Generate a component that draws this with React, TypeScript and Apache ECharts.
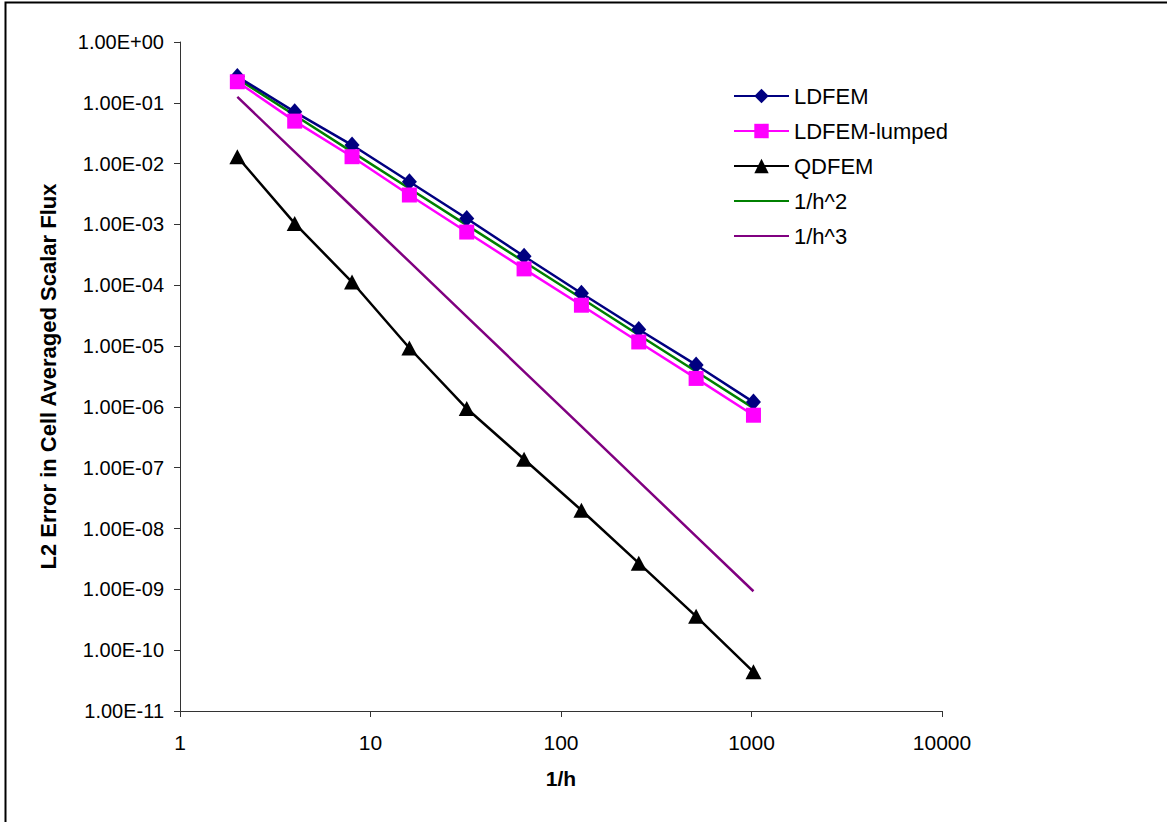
import React, { useEffect, useRef } from "react";
import * as echarts from "echarts";

const xs = [2, 4, 8, 16, 32, 64, 128, 256, 512, 1024];
const ldfem = [0.27, 0.071, 0.0202, 0.00504, 0.00125, 0.0003, 7.4e-5, 1.87e-5, 4.9e-6, 1.2e-6];
const ldfemLumped = [0.222, 0.05, 0.013, 0.00305, 7.5e-4, 1.86e-4, 4.7e-5, 1.17e-5, 2.94e-6, 7.3e-7];
const qdfem = [0.013, 0.00104, 1.13e-4, 9.3e-6, 9.4e-7, 1.38e-7, 2.0e-8, 2.7e-9, 3.6e-10, 4.4e-11];
const invH2 = [0.25, 0.0625, 0.015625, 0.00390625, 9.765625e-4, 2.44140625e-4, 6.103515625e-5, 1.52587890625e-5, 3.814697265625e-6, 9.5367431640625e-7];
const invH3 = [0.125, 0.015625, 0.001953125, 2.44140625e-4, 3.0517578125e-5, 3.814697265625e-6, 4.76837158203125e-7, 5.9604644775390625e-8, 7.450580596923828e-9, 9.313225746154785e-10];
const seriesNames = ["LDFEM", "LDFEM-lumped", "QDFEM", "1/h^2", "1/h^3"];
const xTicks = [1, 10, 100, 1000, 10000];

const FONT = "'Liberation Sans', Arial, sans-serif";

function pairs(vals: number[]) {
  return xs.map((x, i) => [x, vals[i]]);
}

function fmtExp(v: number) {
  const e = Math.round(Math.log10(v));
  const sign = e < 0 ? "-" : "+";
  const a = Math.abs(e);
  return "1.00E" + sign + (a < 10 ? "0" + a : String(a));
}

export default function App() {
  const ref = useRef<HTMLDivElement>(null);
  useEffect(() => {
    if (!ref.current) return;
    const chart = echarts.init(ref.current, undefined, { renderer: "svg" });
    chart.setOption({
      animation: false,
      backgroundColor: "#ffffff",
      grid: { left: 180, right: 225, top: 42, bottom: 111, containLabel: false },
      graphic: [
        {
          type: "rect",
          shape: { x: 5.5, y: 2.5, width: 1300, height: 900 },
          style: { fill: "none", stroke: "#000", lineWidth: 2 },
          silent: true,
        },
      ],
      legend: {
        orient: "vertical",
        left: 728,
        top: 80,
        itemWidth: 55,
        itemHeight: 18,
        itemGap: 13,
        textStyle: { fontFamily: FONT, fontSize: 22, color: "#000" },
        data: [
          { name: seriesNames[0] },
          { name: seriesNames[1] },
          { name: seriesNames[2] },
          { name: seriesNames[3], itemStyle: { opacity: 0 } },
          { name: seriesNames[4], itemStyle: { opacity: 0 } },
        ],
      },
      xAxis: {
        type: "log",
        logBase: 10,
        min: 1,
        max: 10000,
        name: "1/h",
        nameLocation: "middle",
        nameGap: 57,
        nameTextStyle: { fontFamily: FONT, fontSize: 21, fontWeight: "bold", color: "#000" },
        axisLine: { show: true, onZero: false, lineStyle: { color: "#333", width: 1 } },
        axisTick: { show: true, inside: false, length: 6, lineStyle: { color: "#333" } },
        minorTick: { show: false },
        splitLine: { show: false },
        axisLabel: {
          fontFamily: FONT,
          fontSize: 21,
          color: "#000",
          margin: 21,
          formatter: (v: number) => String(xTicks.find((t) => Math.abs(t - v) / t < 1e-6) ?? Math.round(v)),
        },
      },
      yAxis: {
        type: "log",
        logBase: 10,
        min: 1e-11,
        max: 1,
        interval: 1,
        name: "L2 Error in Cell Averaged Scalar Flux",
        nameLocation: "middle",
        nameGap: 121,
        nameRotate: 90,
        nameTextStyle: { fontFamily: FONT, fontSize: 22, fontWeight: "bold", color: "#000" },
        axisLine: { show: true, onZero: false, lineStyle: { color: "#333", width: 1 } },
        axisTick: { show: true, inside: false, length: 6, lineStyle: { color: "#333" } },
        minorTick: { show: false },
        splitLine: { show: false },
        axisLabel: {
          fontFamily: FONT,
          fontSize: 20,
          color: "#000",
          margin: 16,
          formatter: (v: number) => fmtExp(v),
        },
      },
      series: [
        {
          name: "LDFEM",
          type: "line",
          data: pairs(ldfem),
          symbol: "diamond",
          symbolSize: [15, 17],
          itemStyle: { color: "#000080" },
          lineStyle: { color: "#000080", width: 2.5 },
        },
        {
          name: "LDFEM-lumped",
          type: "line",
          data: pairs(ldfemLumped),
          symbol: "rect",
          symbolSize: 15,
          itemStyle: { color: "#ff00ff" },
          lineStyle: { color: "#ff00ff", width: 2.5 },
          z: 3,
        },
        {
          name: "QDFEM",
          type: "line",
          data: pairs(qdfem),
          symbol: "triangle",
          symbolSize: [16, 15],
          itemStyle: { color: "#000000" },
          lineStyle: { color: "#000000", width: 2.5 },
        },
        {
          name: "1/h^2",
          type: "line",
          data: pairs(invH2),
          showSymbol: false,
          symbol: "none",
          itemStyle: { color: "#008000" },
          lineStyle: { color: "#008000", width: 2.5 },
          z: 2,
        },
        {
          name: "1/h^3",
          type: "line",
          data: pairs(invH3),
          showSymbol: false,
          symbol: "none",
          itemStyle: { color: "#800080" },
          lineStyle: { color: "#800080", width: 2.5 },
        },
      ],
    });
    return () => chart.dispose();
  }, []);
  return (
    <div
      ref={ref}
      style={{ position: "fixed", left: 0, top: 0, width: 1167, height: 822, background: "#fff" }}
    />
  );
}
